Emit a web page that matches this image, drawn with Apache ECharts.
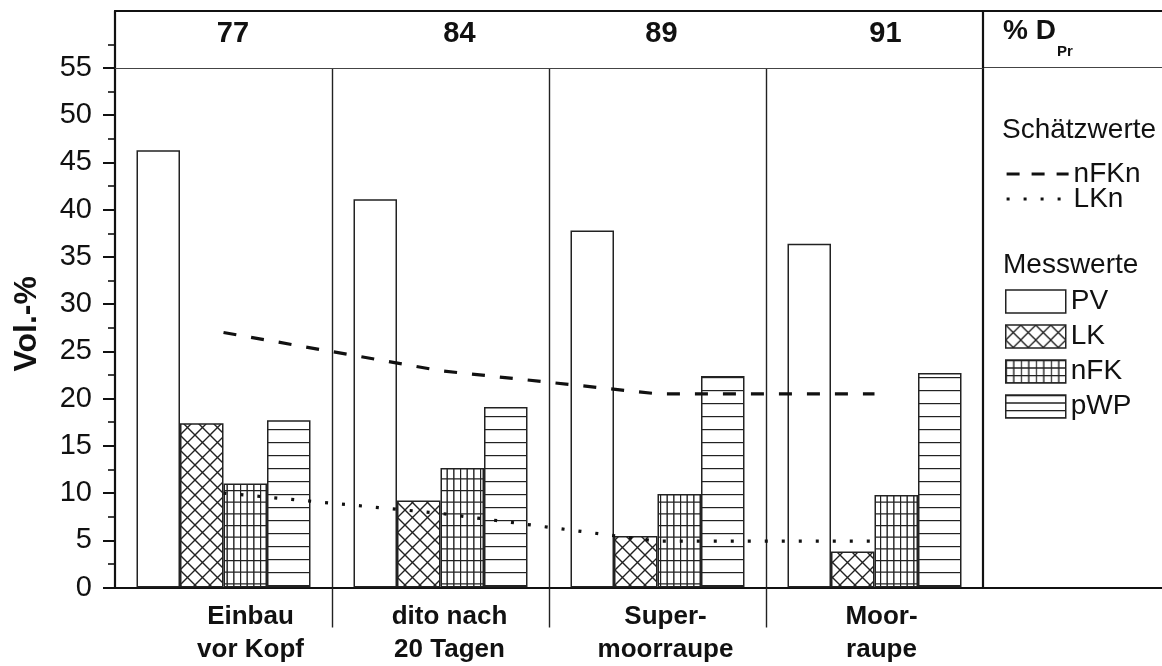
<!DOCTYPE html>
<html><head><meta charset="utf-8">
<script src="https://cdn.jsdelivr.net/npm/echarts@6/dist/echarts.min.js"></script>
<style>html,body{margin:0;padding:0;background:#fff}#c{width:1162px;height:666px}</style>
</head><body><div id="c"></div>
<script>
// ---- data ----
const categories = ['Einbau\nvor Kopf', 'dito nach\n20 Tagen', 'Super-\nmoorraupe', 'Moor-\nraupe'];
const densityLabels = ['77', '84', '89', '91'];
const PV  = [46.3, 41.1, 37.8, 36.4];
const LK  = [17.4, 9.2, 5.45, 3.8];
const nFK = [11.0, 12.65, 9.9, 9.8];
const pWP = [17.7, 19.1, 22.4, 22.7];
const nFKn = [27.0, 22.95, 20.5, 20.5];
const LKn  = [10.0, 7.85, 4.9, 4.9];

// ---- layout / style ----
const FONT = '"Liberation Sans", Arial, Helvetica, sans-serif';
const INK = '#111';
const catShift = [27, 9, 8, 7];
const topShift = [9.5, 19, 4, 11];

function pattern(w, h, draw) {
  const c = document.createElement('canvas');
  c.width = w; c.height = h;
  const g = c.getContext('2d');
  g.fillStyle = '#fff'; g.fillRect(0, 0, w, h);
  g.strokeStyle = '#222'; g.lineWidth = 1.4;
  draw(g, w, h);
  return { image: c, repeat: 'repeat' };
}
const crossPat = pattern(15, 15, (g, w, h) => {
  g.beginPath();
  for (const d of [-w, 0, w]) {
    g.moveTo(d, 0); g.lineTo(d + w, h);
    g.moveTo(d + w, 0); g.lineTo(d, h);
  }
  g.stroke();
});
const gridPat = pattern(20, 35, (g, w, h) => {
  g.beginPath();
  [0.5, 7.17, 13.83].forEach(x => { g.moveTo(x, 0); g.lineTo(x, h); });
  [0.5, 12.17, 23.83].forEach(y => { g.moveTo(0, y); g.lineTo(w, y); });
  g.stroke();
});
const gridPatLegend = pattern(15, 15, (g, w, h) => {
  g.beginPath();
  [0.5, 8].forEach(x => { g.moveTo(x, 0); g.lineTo(x, h); });
  [0.5, 8].forEach(y => { g.moveTo(0, y); g.lineTo(w, y); });
  g.stroke();
});
const hPat = pattern(4, 13, (g, w, h) => {
  g.beginPath(); g.moveTo(0, 0.5); g.lineTo(w, 0.5); g.stroke();
});
const hPatLegend = pattern(4, 15, (g, w, h) => {
  g.beginPath(); g.moveTo(0, 0.5); g.lineTo(w, 0.5); g.moveTo(0, 8); g.lineTo(w, 8); g.stroke();
});

const barBase = { type: 'bar', xAxisIndex: 0, yAxisIndex: 0, barWidth: 43.5, barGap: '0%', silent: true };
const border = { borderColor: '#222', borderWidth: 1.5 };
const thick = { color: INK, width: 2.2 };
const hidden = { axisTick: { show: false }, axisLabel: { show: false }, splitLine: { show: false } };

const chart = echarts.init(document.getElementById('c'), null, { renderer: 'canvas' });
chart.setOption({
  animation: false,
  backgroundColor: '#fff',
  textStyle: { fontFamily: FONT, color: INK },
  grid: [
    { left: 115, top: 68, width: 868, height: 519.5, outerBoundsMode: 'none', containLabel: false },
    { left: 115, top: 11, width: 868, height: 57, outerBoundsMode: 'none', containLabel: false },
    { left: 983, top: 11, width: 181, height: 576.5, outerBoundsMode: 'none', containLabel: false }
  ],
  xAxis: [
    { type: 'category', gridIndex: 0, position: 'bottom',
      data: categories.map((c, i) => ({ value: c, textStyle: { padding: [0, 0, 0, 2 * catShift[i]] } })),
      axisLine: { onZero: false, lineStyle: thick }, axisTick: { show: false },
      axisLabel: { fontSize: 26, fontWeight: 'bold', lineHeight: 33, margin: 13, color: INK, fontFamily: FONT, interval: 0 },
      splitLine: { show: false } },
    { type: 'value', gridIndex: 0, position: 'bottom', min: 0, max: 4, interval: 1,
      axisLine: { show: false, onZero: false }, axisLabel: { show: false },
      axisTick: { show: true, customValues: [1, 2, 3], length: 40, lineStyle: { color: '#222', width: 1.4 } },
      splitLine: { show: true, lineStyle: { color: '#222', width: 1.4 } } },
    { type: 'category', gridIndex: 1, position: 'bottom',
      data: densityLabels.map((c, i) => ({ value: c, textStyle: { padding: [0, 0, 0, 2 * topShift[i]] } })),
      axisLine: { onZero: false, lineStyle: { color: '#444', width: 1.2 } }, axisTick: { show: false },
      axisLabel: { inside: true, margin: 20, fontSize: 29, fontWeight: 'bold', color: INK, fontFamily: FONT, interval: 0 },
      splitLine: { show: false } },
    Object.assign({ type: 'value', gridIndex: 1, position: 'top', min: 0, max: 1,
      axisLine: { show: true, onZero: false, lineStyle: thick } }, hidden),
    Object.assign({ type: 'value', gridIndex: 2, position: 'top', min: 0, max: 1,
      axisLine: { show: true, onZero: false, lineStyle: thick } }, hidden),
    Object.assign({ type: 'value', gridIndex: 2, position: 'bottom', min: 0, max: 1,
      axisLine: { show: true, onZero: false, lineStyle: thick } }, hidden)
  ],
  yAxis: [
    { type: 'value', gridIndex: 0, min: 0, max: 55, interval: 5,
      axisLine: { show: true, onZero: false, lineStyle: thick },
      axisTick: { show: true, length: 12, lineStyle: { color: INK, width: 2 } },
      minorTick: { show: true, splitNumber: 2, length: 7, lineStyle: { color: INK, width: 1.6 } },
      axisLabel: { fontSize: 29, margin: 23, color: INK, fontFamily: FONT },
      splitLine: { show: false },
      name: 'Vol.-%', nameLocation: 'middle', nameRotate: 90, nameGap: 72,
      nameTextStyle: { fontSize: 32, fontWeight: 'bold', color: INK, fontFamily: FONT, padding: [0, 0, 0, 8] } },
    { type: 'value', gridIndex: 1, min: 55, max: 61,
      axisLine: { show: true, onZero: false, lineStyle: thick },
      axisTick: { show: true, customValues: [57.5], length: 7, lineStyle: { color: INK, width: 1.6 } },
      axisLabel: { show: false }, splitLine: { show: false } },
    { type: 'value', gridIndex: 2, min: 0, max: 61, interval: 55, position: 'left',
      axisLine: { show: true, onZero: false, lineStyle: thick },
      axisTick: { show: false }, axisLabel: { show: false },
      splitLine: { show: true, lineStyle: { color: '#444', width: 1.2 } } }
  ],
  legend: [
    { orient: 'vertical', left: 1005, top: 160, padding: 0, itemWidth: 62, itemHeight: 25, itemGap: -3,
      selectedMode: false,
      data: [
        { name: 'nFKn', lineStyle: { color: INK, width: 3.2, type: [13, 12] }, itemStyle: { opacity: 0 } },
        { name: 'LKn', lineStyle: { color: INK, width: 3.2, type: [3, 14] }, itemStyle: { opacity: 0 } }
      ],
      textStyle: { fontSize: 28, lineHeight: 25, color: INK, fontFamily: FONT } },
    { orient: 'vertical', left: 1005, top: 287.5, padding: 0, itemWidth: 60, itemHeight: 23, itemGap: 7,
      selectedMode: false, icon: 'rect',
      itemStyle: { borderColor: '#222', borderWidth: 1.5 },
      data: [
        { name: 'PV' },
        { name: 'LK' },
        { name: 'nFK', itemStyle: { color: gridPatLegend } },
        { name: 'pWP', itemStyle: { color: hPatLegend } }
      ],
      textStyle: { fontSize: 28, lineHeight: 23, color: INK, fontFamily: FONT } }
  ],
  graphic: [
    { type: 'text', x: 1003, y: 31.5, style: { text: '% D', font: 'bold 28px ' + FONT, fill: INK, verticalAlign: 'middle' } },
    { type: 'text', x: 1057, y: 52, style: { text: 'Pr', font: 'bold 15px ' + FONT, fill: INK, verticalAlign: 'middle' } },
    { type: 'text', x: 1002, y: 130, style: { text: 'Schätzwerte', font: '28px ' + FONT, fill: INK, verticalAlign: 'middle' } },
    { type: 'text', x: 1003, y: 265, style: { text: 'Messwerte', font: '28px ' + FONT, fill: INK, verticalAlign: 'middle' } }
  ],
  series: [
    Object.assign({ name: 'PV', data: PV, itemStyle: Object.assign({ color: '#fff' }, border) }, barBase),
    Object.assign({ name: 'LK', data: LK, itemStyle: Object.assign({ color: crossPat }, border) }, barBase),
    Object.assign({ name: 'nFK', data: nFK, itemStyle: Object.assign({ color: gridPat }, border) }, barBase),
    Object.assign({ name: 'pWP', data: pWP, itemStyle: Object.assign({ color: hPat }, border) }, barBase),
    { name: 'nFKn', type: 'line', xAxisIndex: 0, yAxisIndex: 0, data: nFKn, symbol: 'none', z: 5, silent: true,
      lineStyle: { color: INK, width: 3.2, type: [13, 15], cap: 'butt' } },
    { name: 'LKn', type: 'line', xAxisIndex: 0, yAxisIndex: 0, data: LKn, symbol: 'none', z: 5, silent: true,
      lineStyle: { color: INK, width: 3.2, type: [3, 14], cap: 'butt' } }
  ]
});
</script>
</body></html>
